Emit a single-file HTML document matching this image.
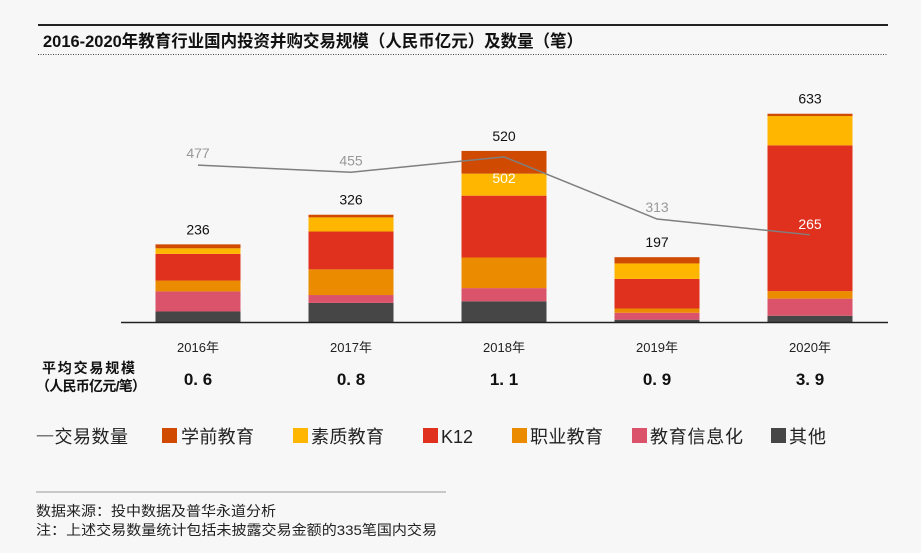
<!DOCTYPE html>
<html><head><meta charset="utf-8"><style>
body{margin:0;background:#f7f7f7;font-family:"Liberation Sans","Noto Sans CJK SC",sans-serif;}
svg{display:block}
</style></head><body>
<svg id="c" width="921" height="553">
<rect width="921" height="553" fill="#f7f7f7"/>
<line x1="38" y1="25" x2="888" y2="25" stroke="#222" stroke-width="2"/>
<text x="43" y="47" font-size="17" font-weight="bold" fill="#111" textLength="540" lengthAdjust="spacingAndGlyphs">2016-2020年教育行业国内投资并购交易规模（人民币亿元）及数量（笔）</text>
<line x1="38" y1="54.5" x2="888" y2="54.5" stroke="#444" stroke-width="1" stroke-dasharray="1,1.5"/>
<g id="bars"></g>
<line x1="121" y1="322.5" x2="888" y2="322.5" stroke="#222" stroke-width="1.5"/>
<g id="line"></g>
<g id="xl"></g>
<text x="42" y="373" font-size="14" font-weight="bold" fill="#111" textLength="93">平均交易规模</text>
<text x="36" y="391" font-size="14" font-weight="bold" fill="#111" textLength="110">（人民币亿元/笔）</text>
<g font-size="18" fill="#222">
<text x="36" y="443" textLength="92"><tspan fill="#777">一</tspan>交易数量</text>
<rect x="162" y="428" width="15" height="15" fill="#d04a02"/>
<text x="181" y="443" textLength="73">学前教育</text>
<rect x="293" y="428" width="15" height="15" fill="#ffb600"/>
<text x="311" y="443" textLength="73">素质教育</text>
<rect x="423" y="428" width="15" height="15" fill="#e0301e"/>
<text x="441" y="443">K12</text>
<rect x="512" y="428" width="15" height="15" fill="#eb8c00"/>
<text x="530" y="443" textLength="73">职业教育</text>
<rect x="632" y="428" width="15" height="15" fill="#db536a"/>
<text x="650" y="443" textLength="93">教育信息化</text>
<rect x="771" y="428" width="15" height="15" fill="#464646"/>
<text x="789" y="443" textLength="37">其他</text>
</g>
<line x1="36" y1="492" x2="446" y2="492" stroke="#999" stroke-width="1"/>
<text x="36" y="516" font-size="14" fill="#222" textLength="240" lengthAdjust="spacingAndGlyphs">数据来源：投中数据及普华永道分析</text>
<text x="36" y="535" font-size="14" fill="#222" textLength="401" lengthAdjust="spacingAndGlyphs">注：上述交易数量统计包括未披露交易金额的335笔国内交易</text>
</svg>
<script>
const years=["2016年","2017年","2018年","2019年","2020年"];
const preschool=[12,8,69,19,7];
const quality=[17,43,67,47,89];
const k12=[81,115,188,90,443];
const vocational=[33,78,93,13,23];
const edtech=[61,24,40,21,52];
const other=[32,58,63,7,19];
const totals=[236,326,520,197,633];
const dealCount=[477,455,502,313,265];
const avgSize=["0. 6","0. 8","1. 1","0. 9","3. 9"];
const NS="http://www.w3.org/2000/svg";
const base=322, k=0.329, x0=198, step=153, bw=85;
const yS=v=>base-v*k;
const xS=i=>x0+i*step;
function mk(t,a,p){const e=document.createElementNS(NS,t);for(const n in a)e.setAttribute(n,a[n]);p.appendChild(e);return e;}
const bars=document.getElementById('bars'),ln=document.getElementById('line'),xl=document.getElementById('xl');
const series=[["other",other,"#464646"],["edtech",edtech,"#db536a"],["vocational",vocational,"#eb8c00"],["k12",k12,"#e0301e"],["quality",quality,"#ffb600"],["preschool",preschool,"#d04a02"]];
years.forEach((y,i)=>{
  let acc=0;
  series.forEach(s=>{
    const v=s[1][i];
    const r=mk('rect',{x:xS(i)-bw/2,y:yS(acc+v),width:bw,height:v*k,fill:s[2]},bars);
    
    
    acc+=v;
  });
  const t=mk('text',{x:xS(i),y:yS(acc)-10,'text-anchor':'middle','font-size':14,fill:'#111'},bars);
  t.textContent=totals[i];
  
  
  const yl=mk('text',{x:xS(i),y:352,'text-anchor':'middle','font-size':13,fill:'#222'},xl);
  yl.textContent=y;
  
  
  const av=mk('text',{x:xS(i),y:385,'text-anchor':'middle','font-size':17,'font-weight':'bold',fill:'#111'},xl);
  av.textContent=avgSize[i];
  
  
});
const pts=dealCount.map((v,i)=>xS(i)+','+yS(v)).join(' ');
const pl=mk('polyline',{points:pts,fill:'none',stroke:'#7f7f7f','stroke-width':1.5},ln);


dealCount.forEach((v,i)=>{
  const inside=(i===2||i===4);
  let ty=yS(v)-7;
  if(i===2)ty=yS(v)+26;
  if(i===4)ty=yS(v)-6;
  const t=mk('text',{x:xS(i),y:ty,'text-anchor':'middle','font-size':14,fill:inside?'#fff':'#999'},ln);
  t.textContent=v;
  
  
});
</script>
</body></html>
